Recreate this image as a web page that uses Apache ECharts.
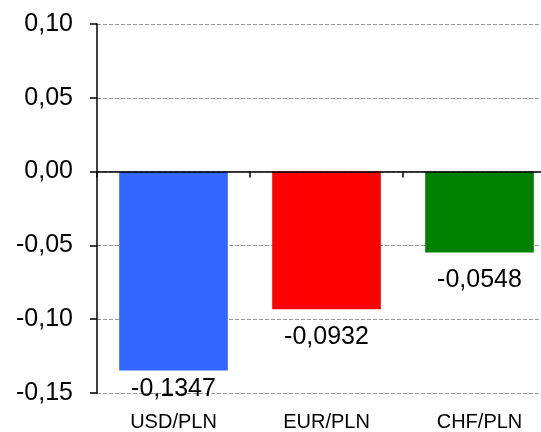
<!DOCTYPE html>
<html>
<head>
<meta charset="utf-8">
<script src="https://cdn.jsdelivr.net/npm/echarts@6/dist/echarts.min.js"></script>
<style>html,body{margin:0;padding:0;background:#fff;overflow:hidden;}#c{width:556px;height:432px;}</style>
</head>
<body>
<div id="c"></div>
<script>
var categories = ['USD/PLN', 'EUR/PLN', 'CHF/PLN'];
var values = [-0.1347, -0.0932, -0.0548];
var barColors = ['#3366FF', '#FF0000', '#008000'];
var labelDistances = [6, 15, 15];
var yMin = -0.15, yMax = 0.10, yStep = 0.05;

var FONT = '"Liberation Sans", Arial, sans-serif';
var chart = echarts.init(document.getElementById('c'), null, {renderer: 'canvas'});
function comma(v, d) { return v.toFixed(d).replace('.', ','); }

chart.setOption({
  animation: false,
  backgroundColor: '#fff',
  grid: {left: 97, top: 24, bottom: 38, right: 0, containLabel: false},
  xAxis: [
    {
      type: 'category', data: categories, position: 'bottom',
      axisLine: {show: false, onZero: false},
      axisTick: {show: false},
      axisLabel: {fontFamily: FONT, fontSize: 20, color: '#000', margin: 19},
      splitLine: {show: false}
    },
    {
      type: 'category', data: categories, position: 'bottom', z: 5,
      axisLine: {show: true, onZero: true, lineStyle: {color: '#000', width: 1.5}},
      axisTick: {show: true, length: 6, lineStyle: {color: '#000', width: 1.5}},
      axisLabel: {show: false},
      splitLine: {show: false}
    }
  ],
  yAxis: {
    type: 'value', min: yMin, max: yMax, interval: yStep,
    axisLine: {show: true, lineStyle: {color: '#000', width: 1.5}},
    axisTick: {show: true, length: 7, lineStyle: {color: '#000', width: 1.5}},
    axisLabel: {fontFamily: FONT, fontSize: 25, color: '#000', margin: 24,
      formatter: function (v) { return comma(v, 2); }},
    splitLine: {show: true, lineStyle: {color: '#999999', type: [4, 2], width: 1}}
  },
  series: [{
    type: 'bar', xAxisIndex: 0, yAxisIndex: 0, barWidth: '71%',
    data: values.map(function (v, i) {
      return {value: v, itemStyle: {color: barColors[i]},
        label: {distance: labelDistances[i]}};
    }),
    label: {show: true, position: 'bottom', fontFamily: FONT, fontSize: 25, color: '#000',
      formatter: function (p) { return comma(p.value, 4); }}
  }]
});
</script>
</body>
</html>
